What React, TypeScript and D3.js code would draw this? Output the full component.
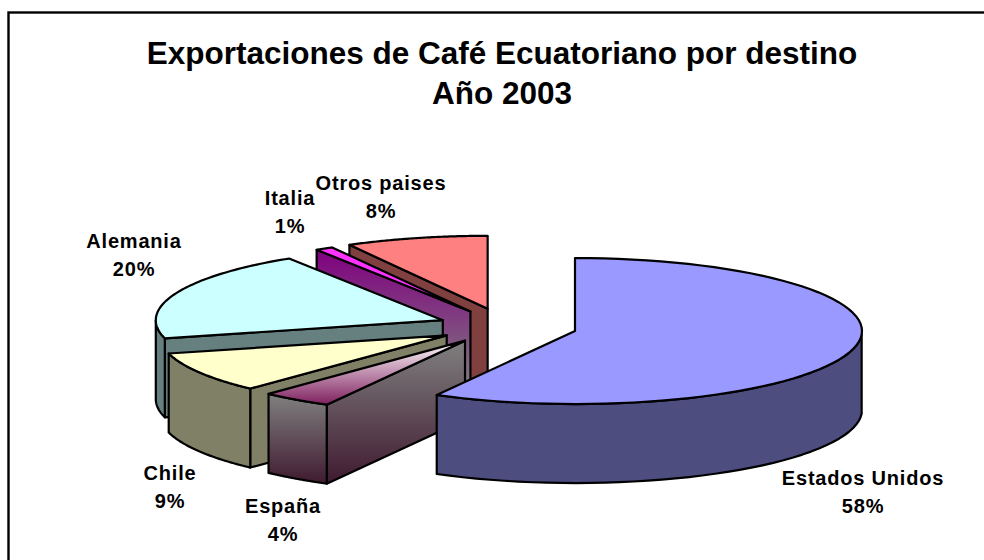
import React from 'react';
import * as d3 from 'd3';

const categories = ['Estados Unidos', 'España', 'Chile', 'Alemania', 'Italia', 'Otros paises'];
const shares = [58, 4, 9, 20, 1, 8];
const explosions = [0.25, 0.24, 0.238, 0.235, 0.24, 0.25];
const titleLines = ['Exportaciones de Café Ecuatoriano por destino', 'Año 2003'];

const topColors = ['#9999ff', 'url(#gEsT)', '#ffffcc', '#ccffff', '#ff33ff', '#ff8080'];
const sideColors = ['#4d4d80', 'url(#gEsS)', '#808066', '#668080', 'url(#gItS)', '#804040'];
const labelAnchors: [number, number][] = [
  [863, 485], [283, 513], [170, 480], [134, 248], [290, 205], [381, 190],
];

const W = 984, H = 560;
const CX = 505.5, CY = 326.5, RX = 287, RY = 73, DEPTH = 79;
const sx = d3.scaleLinear().domain([-1, 1]).range([-RX, RX]);
const sy = d3.scaleLinear().domain([-1, 1]).range([-RY, RY]);

const arcs = d3.pie<number>().sort(null)(shares);
const line = d3.line<[number, number]>();
const pt = (a: number, r = 1): [number, number] => [sx(Math.sin(a) * r), sy(-Math.cos(a) * r)];

export default function App() {
  const slices = arcs.map((d, i) => {
    const mid = (d.startAngle + d.endAngle) / 2;
    const [ox, oy] = pt(mid, explosions[i]);
    const cx = CX + ox, cy = CY + oy;
    const P = (a: number, dz = 0): [number, number] => {
      const [x, y] = pt(a);
      return [cx + x, cy + y + dz];
    };
    const angles = d3.range(0, 73).map((k) => d.startAngle + ((d.endAngle - d.startAngle) * k) / 72);
    const top = line([[cx, cy], ...angles.map((a) => P(a))]) + 'Z';
    const face = line([[cx, cy], P(d.startAngle), P(d.startAngle, DEPTH), [cx, cy + DEPTH]]) + 'Z';
    const front = angles.filter((a) => a >= Math.PI / 2 && a <= (3 * Math.PI) / 2);
    const rim = front.length > 1
      ? line([...front.map((a) => P(a)), ...[...front].reverse().map((a) => P(a, DEPTH))]) + 'Z'
      : null;
    return { i, top, face, rim, showFace: Math.sin(d.startAngle) < -1e-6 };
  });
  const order = [5, 4, 3, 2, 1, 0];
  const font = '"Liberation Sans", Arial, sans-serif';
  return (
    <svg width={W} height={H} style={{ position: 'absolute', left: 0, top: 0 }}>
      <defs>
        <linearGradient id="gEsT" x1="0" y1="0" x2="0" y2="1">
          <stop offset="0" stopColor="#ffffff" />
          <stop offset="1" stopColor="#80205f" />
        </linearGradient>
        <linearGradient id="gEsS" x1="0" y1="0" x2="0" y2="1">
          <stop offset="0" stopColor="#808080" />
          <stop offset="1" stopColor="#401a30" />
        </linearGradient>
        <linearGradient id="gItS" x1="0" y1="0" x2="0" y2="1">
          <stop offset="0" stopColor="#800080" />
          <stop offset="1" stopColor="#808080" />
        </linearGradient>
      </defs>
      <rect x={8.5} y={12.5} width={1000} height={600} fill="#fff" stroke="#000" strokeWidth={2.4} />
      {titleLines.map((t, i) => (
        <text key={t} x={502} y={64 + i * 40} textAnchor="middle" fontFamily={font} fontWeight="bold" fontSize={31.5} fill="#000">{t}</text>
      ))}
      {order.map((i) => {
        const s = slices[i];
        return (
          <g key={categories[i]} stroke="#000" strokeWidth={2.2} strokeLinejoin="round">
            {s.showFace && <path d={s.face} fill={sideColors[i]} />}
            {s.rim && <path d={s.rim} fill={sideColors[i]} />}
            <path d={s.top} fill={topColors[i]} />
          </g>
        );
      })}
      {categories.map((c, i) => (
        <text key={c} textAnchor="middle" fontFamily={font} fontWeight="bold" fontSize={20} letterSpacing={0.8} fill="#000">
          <tspan x={labelAnchors[i][0]} y={labelAnchors[i][1]}>{c}</tspan>
          <tspan x={labelAnchors[i][0]} y={labelAnchors[i][1] + 28}>{shares[i]}%</tspan>
        </text>
      ))}
    </svg>
  );
}
